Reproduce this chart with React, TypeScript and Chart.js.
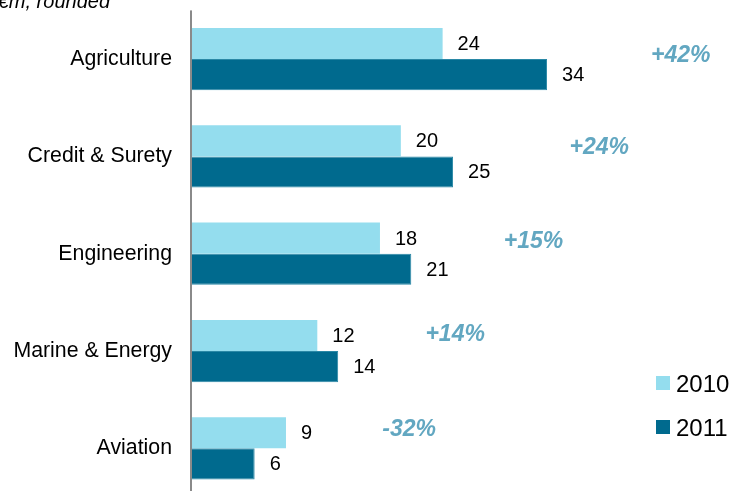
import React, { useEffect, useRef } from "react";
import { Chart, registerables } from "chart.js";

Chart.register(...registerables);

const categories = ["Agriculture", "Credit & Surety", "Engineering", "Marine & Energy", "Aviation"];
const values2010 = [24, 20, 18, 12, 9];
const values2011 = [34, 25, 21, 14, 6];
const growthLabels = ["+42%", "+24%", "+15%", "+14%", "-32%"];
const growthAnchorX = [46.8, 39.0, 32.7, 25.2, 20.8];
const seriesNames = ["2010", "2011"];
const subtitle = "€m, rounded";

const FONT = '"Liberation Sans", Arial, sans-serif';
const LIGHT = "#94DDEE";
const DARK = "#006A8E";
const GROWTH = "#62A7C1";

const overlayPlugin = {
  id: "overlay",
  afterDatasetsDraw(chart: any) {
    const ctx = chart.ctx;
    const area = chart.chartArea;
    const xs = chart.scales.x;
    const ys = chart.scales.y;
    ctx.save();
    // axis line
    ctx.fillStyle = "#8a8a8a";
    ctx.fillRect(area.left - 2, area.top, 2, area.bottom - area.top);
    // value labels
    ctx.font = `20px ${FONT}`;
    ctx.fillStyle = "#000";
    ctx.textAlign = "left";
    ctx.textBaseline = "middle";
    chart.data.datasets.forEach((ds: any, di: number) => {
      const meta = chart.getDatasetMeta(di);
      meta.data.forEach((bar: any, i: number) => {
        ctx.fillText(String(ds.data[i]), bar.x + 15, bar.y + 1);
      });
    });
    // growth labels
    ctx.font = `italic bold 23px ${FONT}`;
    ctx.fillStyle = GROWTH;
    ctx.textAlign = "center";
    const yOff = [-3, -9, -12, -16, -19];
    growthLabels.forEach((g, i) => {
      const x = xs.getPixelForValue(growthAnchorX[i]);
      const y = ys.getPixelForValue(i) + yOff[i];
      ctx.fillText(g, x, y);
    });
    // legend
    const colors = [LIGHT, DARK];
    ctx.font = `24px ${FONT}`;
    ctx.textAlign = "left";
    seriesNames.forEach((n, i) => {
      const ly = 384 + i * 44;
      ctx.fillStyle = colors[i];
      ctx.fillRect(656, ly - 8, 14, 14);
      ctx.fillStyle = "#000";
      ctx.fillText(n, 676, ly + 1);
    });
    // subtitle
    ctx.font = `italic 20px ${FONT}`;
    ctx.fillStyle = "#000";
    ctx.textAlign = "right";
    ctx.textBaseline = "alphabetic";
    ctx.fillText(subtitle, 110, 8);
    ctx.restore();
  },
};

export default function App() {
  const ref = useRef<HTMLCanvasElement | null>(null);
  useEffect(() => {
    if (!ref.current) return;
    const chart = new Chart(ref.current, {
      type: "bar",
      data: {
        labels: categories,
        datasets: [
          {
            label: seriesNames[0],
            data: values2010,
            backgroundColor: LIGHT,
            borderWidth: 0,
            categoryPercentage: 0.64,
            barPercentage: 1,
          },
          {
            label: seriesNames[1],
            data: values2011,
            backgroundColor: DARK,
            borderColor: "#2a88a6",
            borderWidth: 1,
            categoryPercentage: 0.64,
            barPercentage: 1,
          },
        ],
      },
      options: {
        indexAxis: "y",
        responsive: false,
        animation: false,
        layout: { padding: { top: 10.4, bottom: 3, left: 0, right: 0 } },
        plugins: { legend: { display: false }, tooltip: { enabled: false } },
        scales: {
          x: { display: false, min: 0, max: 52 },
          y: {
            grid: { display: false, drawTicks: false },
            border: { display: false },
            ticks: { font: { family: FONT, size: 21.3 }, color: "#000", padding: 20 },
            afterFit: (s: any) => {
              s.width = 192;
              s.paddingTop = 0;
              s.paddingBottom = 0;
            },
          },
        },
      },
      plugins: [overlayPlugin],
    });
    return () => chart.destroy();
  }, []);
  return (
    <div style={{ position: "fixed", left: 0, top: 0, width: 735, height: 491, overflow: "hidden", background: "#fff" }}>
      <canvas ref={ref} width={735} height={500} style={{ width: 735, height: 500, display: "block" }} />
    </div>
  );
}
